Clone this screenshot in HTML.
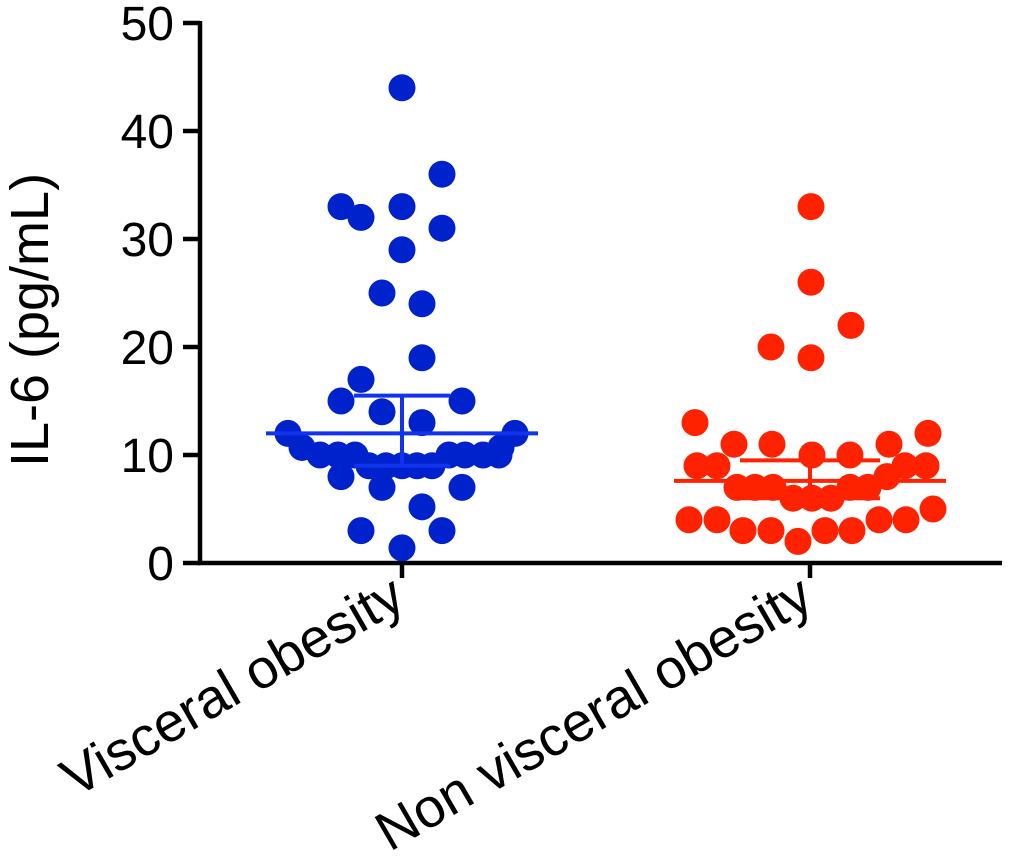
<!DOCTYPE html>
<html><head><meta charset="utf-8"><style>
html,body{margin:0;padding:0;background:#fff;}
svg{display:block;font-family:"Liberation Sans",Arial,sans-serif;}
</style></head><body>
<svg id="chart" width="1020" height="862" viewBox="0 0 1020 862">
<g id="axes"></g>
<g id="marks"></g>
</svg>
<script>
const categories = ["Visceral obesity", "Non visceral obesity"];
const yTicks = [0, 10, 20, 30, 40, 50];
const visceralValues = [44,36,33,33,32,31,29,25,24,19,17,15,15,14,13,12,12,10.7,10.7,10,10,10,10,10,10,10,9,9,9,9,9,8,7,7,5.2,3,3,1.4];
const visceralOffsets = [0,40,-61,0,-41,40,0,-20,20,20,-41,-61,60,-20,20,-114,113,-100,99,-82,-64,-47,47,63,81,97,-33,-16,0,15,30,-61,-20,60,20,-41,40,0];
const nonVisceralValues = [33,26,22,20,19,13,12,11,11,11,10,10,9,9,9,9,8,7,7,7,7,7,6,6,6,5,4,4,4,4,3,3,3,3,2];
const nonVisceralOffsets = [1,1,41,-39,1,-115,118,-76,-38,79,2,40,-113,-93,95,116,77,-73,-55,-37,40,58,-17,2,21,123,-121,-93,69,96,-67,-39,15,42,-12];
const centerValues = [12.0, 7.6];
const upperValues = [15.5, 9.5];
const lowerValues = [9.0, 6.0];
const colors = ["#0022cc", "#ff2200"];
const lineColors = ["#1133ee", "#ff2200"];

const NS = "http://www.w3.org/2000/svg";
const y0 = 563, yTop = 23, yMax = 50;
function yScale(v){ return y0 - (v / yMax) * (y0 - yTop); }
const xCenters = [402, 810];
function xScale(i){ return xCenters[i]; }
function mk(tag, attrs, parent){
  const el = document.createElementNS(NS, tag);
  for (const k in attrs) el.setAttribute(k, attrs[k]);
  parent.appendChild(el);
  return el;
}
const axes = document.getElementById("axes");
const marks = document.getElementById("marks");

let el = mk("line", {x1:200, y1:yTop-2, x2:200, y2:y0+2, stroke:"#000", "stroke-width":4.5}, axes);


el = mk("line", {x1:198, y1:y0, x2:1002, y2:y0, stroke:"#000", "stroke-width":4.5}, axes);



yTicks.forEach(t => {
  const y = yScale(t);
  const tk = mk("line", {x1:183, y1:y, x2:200, y2:y, stroke:"#000", "stroke-width":4.5}, axes);
  
  
  const tx = mk("text", {x:174, y:y+17, "text-anchor":"end", "font-size":48, fill:"#000"}, axes);
  tx.textContent = t;
  
  
});

const yt = mk("text", {x:0, y:0, "text-anchor":"middle", "font-size":54, fill:"#000", transform:"translate(48,320) rotate(-90)"}, axes);
yt.textContent = "IL-6 (pg/mL)";



categories.forEach((c, i) => {
  const x = xScale(i);
  const tk = mk("line", {x1:x, y1:y0, x2:x, y2:y0+15, stroke:"#000", "stroke-width":4.5}, axes);
  
  
  const tx = mk("text", {x:0, y:0, "text-anchor":"end", "font-size":55, fill:"#000", transform:"translate(" + (x+6) + ",606) rotate(-30)"}, axes);
  tx.textContent = c;
  
  
});

const groups = [[visceralValues, visceralOffsets], [nonVisceralValues, nonVisceralOffsets]];
groups.forEach((g, i) => {
  const vals = g[0], offs = g[1];
  vals.forEach((v, j) => {
    const d = mk("circle", {cx: xScale(i) + (offs[j] || 0), cy: yScale(v), r: 13.5, fill: colors[i]}, marks);
    
    
  });
});

const halfMean = [136, 136], halfCap = [48, 70];
categories.forEach((c, i) => {
  const x = xScale(i);
  const m = mk("line", {x1:x-halfMean[i], y1:yScale(centerValues[i]), x2:x+halfMean[i], y2:yScale(centerValues[i]), stroke:lineColors[i], "stroke-width":4}, marks);
  
  
  const v = mk("line", {x1:x, y1:yScale(upperValues[i]), x2:x, y2:yScale(lowerValues[i]), stroke:lineColors[i], "stroke-width":4}, marks);
  
  
  [upperValues[i], lowerValues[i]].forEach(val => {
    const cp = mk("line", {x1:x-halfCap[i], y1:yScale(val), x2:x+halfCap[i], y2:yScale(val), stroke:lineColors[i], "stroke-width":4}, marks);
    
    
  });
});
</script>
</body></html>
